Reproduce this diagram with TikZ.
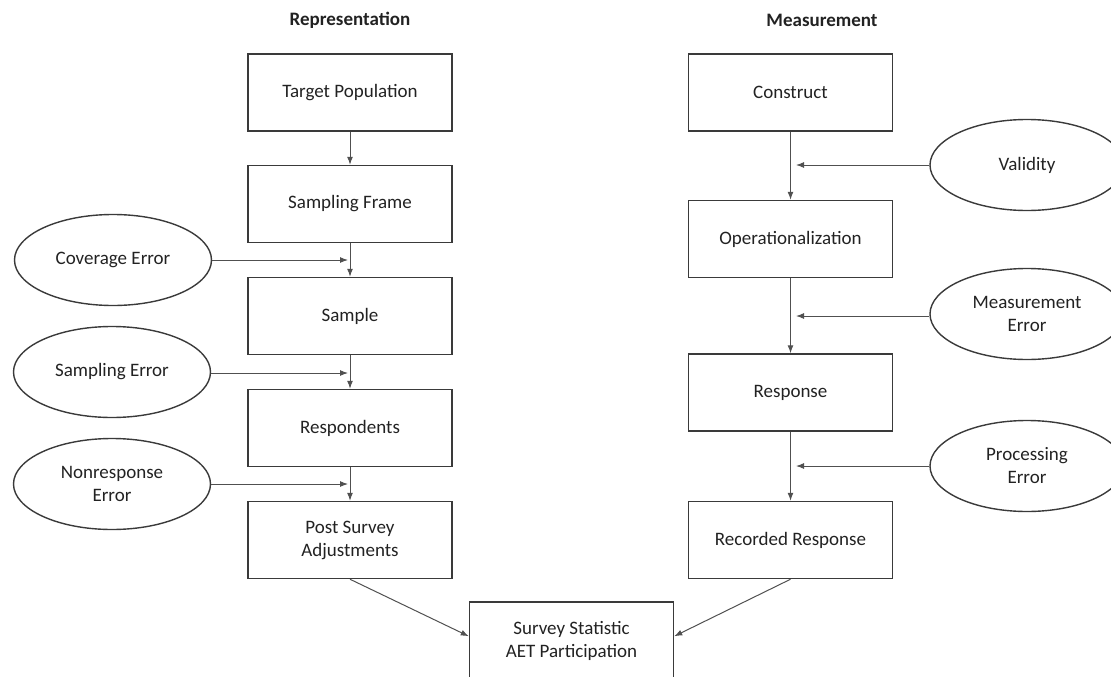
\documentclass[tikz,border=0pt]{standalone}
\usepackage{fontspec}
\setmainfont{Carlito}
\usetikzlibrary{arrows.meta,shapes.geometric,calc}
\definecolor{boxline}{HTML}{3A3A3A}
\definecolor{conline}{HTML}{505050}
\definecolor{txt}{HTML}{222222}
\begin{document}
\begin{tikzpicture}[x=1pt,y=-1pt,
  stepbox/.style={draw=boxline,line width=1.5pt,rectangle,minimum width=204pt,minimum height=77pt,inner sep=0pt,align=center,font=\fontsize{19}{23}\selectfont,text=txt},
  errell/.style={draw=boxline,line width=1.4pt,ellipse,minimum width=197pt,minimum height=91pt,inner sep=0pt,align=center,font=\fontsize{19}{23}\selectfont,text=txt},
  header/.style={font=\fontsize{19}{23}\selectfont\bfseries,text=txt},
  conn/.style={draw=conline,line width=1pt,-{Latex[length=8pt,width=6pt]}}]
\useasboundingbox (0,0) rectangle (1111,677);
% headers
\node[header] (hrep) at (350,20) {Representation};
\node[header] (hmeas) at (822,20) {Measurement};
% left column
\node[stepbox] (tp) at (350,92.5) {Target Population};
\node[stepbox] (sf) at (350,204) {Sampling Frame};
\node[stepbox] (sa) at (350,316) {Sample};
\node[stepbox] (re) at (350,428) {Respondents};
\node[stepbox] (ps) at (350,540) {Post Survey\\Adjustments};
% right column
\node[stepbox] (co) at (790.5,92.5) {Construct};
\node[stepbox] (op) at (790.5,239) {Operationalization};
\node[stepbox] (rs) at (790.5,392.5) {Response};
\node[stepbox] (rr) at (790.5,540) {Recorded Response};
% bottom
\node[stepbox,minimum height=78pt] (ss) at (571.5,641) {Survey Statistic\\AET Participation};
% ellipses left
\node[errell] (ce) at (113,260) {Coverage Error};
\node[errell] (se) at (112,372) {Sampling Error};
\node[errell] (ne) at (112,484) {Nonresponse\\Error};
% ellipses right
\node[errell,minimum width=194pt] (va) at (1027,165) {Validity};
\node[errell,minimum width=194pt] (me) at (1027,314) {Measurement\\Error};
\node[errell,minimum width=194pt] (pe) at (1027,466) {Processing\\Error};
% side arrow ends
\coordinate (cet) at (348,260);
\coordinate (set) at (348,373);
\coordinate (net) at (348,484);
\coordinate (vat) at (796,165);
\coordinate (met) at (796,316);
\coordinate (pet) at (796,466);
% vertical arrows
\draw[conn] (tp.south) -- (sf.north);
\draw[conn] (sf.south) -- (sa.north);
\draw[conn] (sa.south) -- (re.north);
\draw[conn] (re.south) -- (ps.north);
\draw[conn] (co.south) -- (op.north);
\draw[conn] (op.south) -- (rs.north);
\draw[conn] (rs.south) -- (rr.north);
% side arrows
\draw[conn] (ce.east) -- (cet);
\draw[conn] (se.east |- set) -- (set);
\draw[conn] (ne.east) -- (net);
\draw[conn] (va.west) -- (vat);
\draw[conn] (me.west |- met) -- (met);
\draw[conn] (pe.west) -- (pet);
% to survey statistic
\draw[conn] (ps.south) -- ($(ss.north west)+(0,35)$);
\draw[conn] (rr.south) -- ($(ss.north east)+(0,35)$);
\end{tikzpicture}
\end{document}
